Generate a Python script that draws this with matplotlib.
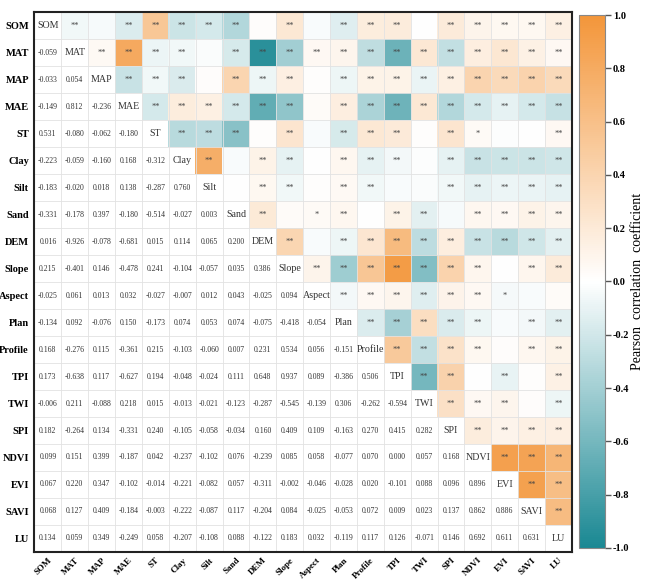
import numpy as np
import matplotlib
matplotlib.use("Agg")
import matplotlib.pyplot as plt
from matplotlib.colors import LinearSegmentedColormap

plt.rcParams['font.family'] = ['Liberation Serif', 'DejaVu Serif']

names = ["SOM", "MAT", "MAP", "MAE", "ST", "Clay", "Silt", "Sand", "DEM", "Slope",
         "Aspect", "Plan", "Profile", "TPI", "TWI", "SPI", "NDVI", "EVI", "SAVI", "LU"]

# lower triangle, row by row (row i has i values)
r_MAT = [-0.059]
r_MAP = [-0.033, 0.054]
r_MAE = [-0.149, 0.812, -0.236]
r_ST = [0.531, -0.080, -0.062, -0.180]
r_Clay = [-0.223, -0.059, -0.160, 0.168, -0.312]
r_Silt = [-0.183, -0.020, 0.018, 0.138, -0.287, 0.760]
r_Sand = [-0.331, -0.178, 0.397, -0.180, -0.514, -0.027, 0.003]
r_DEM = [0.016, -0.926, -0.078, -0.681, 0.015, 0.114, 0.065, 0.200]
r_Slope = [0.215, -0.401, 0.146, -0.478, 0.241, -0.104, -0.057, 0.035, 0.386]
r_Aspect = [-0.025, 0.061, 0.013, 0.032, -0.027, -0.007, 0.012, 0.043, -0.025, 0.094]
r_Plan = [-0.134, 0.092, -0.076, 0.150, -0.173, 0.074, 0.053, 0.074, -0.075, -0.418, -0.054]
r_Profile = [0.168, -0.276, 0.115, -0.361, 0.215, -0.103, -0.060, 0.007, 0.231, 0.534, 0.056, -0.151]
r_TPI = [0.173, -0.638, 0.117, -0.627, 0.194, -0.048, -0.024, 0.111, 0.648, 0.937, 0.089, -0.386, 0.506]
r_TWI = [-0.006, 0.211, -0.088, 0.218, 0.015, -0.013, -0.021, -0.123, -0.287, -0.545, -0.139, 0.306,
         -0.262, -0.594]
r_SPI = [0.182, -0.264, 0.134, -0.331, 0.240, -0.105, -0.058, -0.034, 0.160, 0.409, 0.109, -0.163,
         0.270, 0.415, 0.282]
r_NDVI = [0.099, 0.151, 0.399, -0.187, 0.042, -0.237, -0.102, 0.076, -0.239, 0.085, 0.058, -0.077,
          0.070, 0.000, 0.057, 0.168]
r_EVI = [0.067, 0.220, 0.347, -0.102, -0.014, -0.221, -0.082, 0.057, -0.311, -0.002, -0.046, -0.028,
         0.020, -0.101, 0.088, 0.096, 0.896]
r_SAVI = [0.068, 0.127, 0.409, -0.184, -0.003, -0.222, -0.087, 0.117, -0.204, 0.084, -0.025, -0.053,
          0.072, 0.009, 0.023, 0.137, 0.862, 0.886]
r_LU = [0.134, 0.059, 0.349, -0.249, 0.058, -0.207, -0.108, 0.088, -0.122, 0.183, 0.032, -0.119,
        0.117, 0.126, -0.071, 0.146, 0.692, 0.611, 0.631]

lower = [[], r_MAT, r_MAP, r_MAE, r_ST, r_Clay, r_Silt, r_Sand, r_DEM, r_Slope, r_Aspect, r_Plan,
         r_Profile, r_TPI, r_TWI, r_SPI, r_NDVI, r_EVI, r_SAVI, r_LU]

cbar_ticks = [-1.0, -0.8, -0.6, -0.4, -0.2, 0.0, 0.2, 0.4, 0.6, 0.8, 1.0]

n = len(names)
corr = np.eye(n)
for i, row in enumerate(lower):
    for j, v in enumerate(row):
        corr[i, j] = v
        corr[j, i] = v

# significance marks (critical |r| for p<0.05 and p<0.01)
r05 = 0.0355
r01 = 0.047

cmap = LinearSegmentedColormap.from_list("tealorange", ["#1a8893", "#ffffff", "#f3963a"])

upper = np.where(np.triu(np.ones((n, n)), k=1) > 0, corr, np.nan)

fig = plt.figure(figsize=(6.5, 5.81), dpi=100)
ax = fig.add_axes([0.053, 0.050, 0.827, 0.929])
cax = fig.add_axes([0.891, 0.057, 0.040, 0.917])

cm = cmap.copy()
cm.set_bad("white")
im = ax.imshow(upper, cmap=cm, vmin=-1, vmax=1, aspect="auto", interpolation="nearest")

for i in range(n):
    for j in range(n):
        v = corr[i, j]
        if i == j:
            ax.text(j, i, names[i], ha="center", va="center", fontsize=7.2, color="#333333")
        elif i > j:
            ax.text(j, i, "%.3f" % v, ha="center", va="center", fontsize=5.6, color="#333333")
        else:
            if abs(v) >= r01:
                s = "**"
            elif abs(v) >= r05:
                s = "*"
            else:
                s = ""
            if s:
                ax.text(j, i, s, ha="center", va="center", fontsize=6, color="#444444")

ax.set_xticks(np.arange(n))
ax.set_yticks(np.arange(n))
ax.set_xticklabels(names, rotation=45, ha="right", rotation_mode="anchor",
                   fontsize=6.5, fontweight="bold")
ax.set_yticklabels(names, fontsize=7.5, fontweight="bold")
ax.tick_params(axis="x", length=0, pad=3)
ax.tick_params(axis="y", length=0, pad=4)
ax.set_xticks(np.arange(-0.5, n, 1), minor=True)
ax.set_yticks(np.arange(-0.5, n, 1), minor=True)
ax.tick_params(which="minor", length=0)
ax.grid(which="minor", color="#e2e2e2", linewidth=0.6)
ax.grid(which="major", visible=False)
for sp in ax.spines.values():
    sp.set_linewidth(1.5)
    sp.set_color("#222222")

cb = fig.colorbar(im, cax=cax, ticks=cbar_ticks)
cb.ax.set_yticklabels(["%.1f" % abs(t) if t == 0 else "%.1f" % t for t in cbar_ticks],
                      fontweight="bold", fontsize=7.5)
cb.ax.tick_params(length=4, width=1, color="#555555", pad=1.5)
cb.outline.set_edgecolor("#888888")
cb.outline.set_linewidth(0.8)
cb.set_label("Pearson  correlation  coefficient", fontsize=10, labelpad=1)

fig.savefig("out.png", dpi=100)
